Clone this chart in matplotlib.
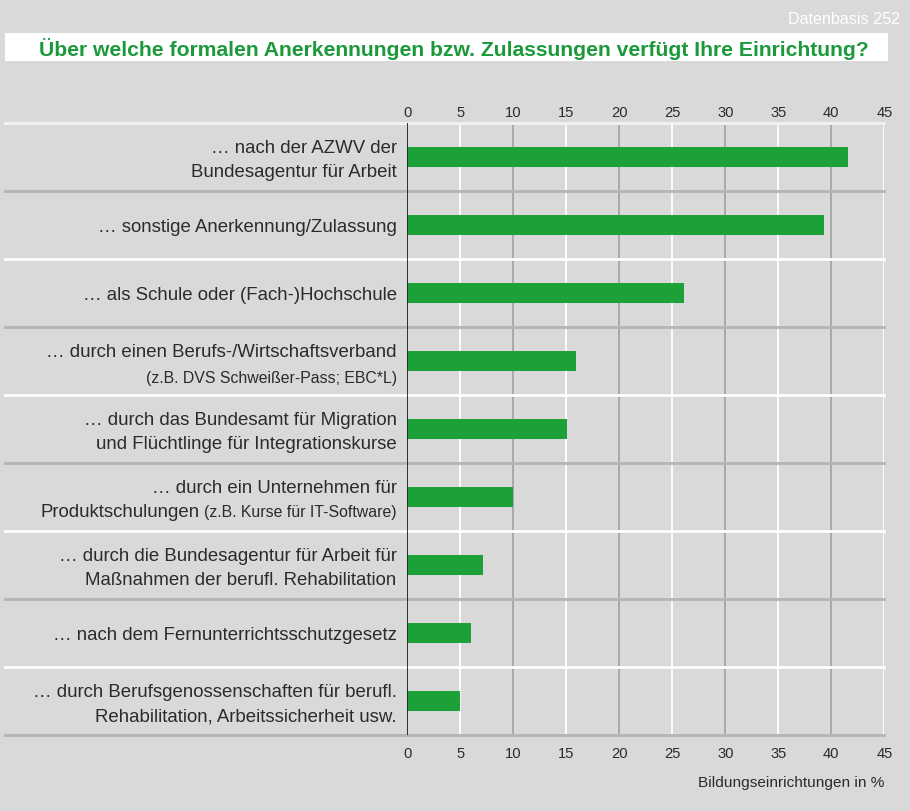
import matplotlib
matplotlib.use('Agg')
import matplotlib.pyplot as plt

plt.rcParams['font.family'] = ['Liberation Sans', 'DejaVu Sans']

# data, top to bottom
labels_main = [
  '… nach der AZWV der\nBundesagentur für Arbeit',
  '… sonstige Anerkennung/Zulassung',
  '… als Schule oder (Fach-)Hochschule',
  '… durch einen Berufs-/Wirtschaftsverband',
  '… durch das Bundesamt für Migration\nund Flüchtlinge für Integrationskurse',
  '… durch ein Unternehmen für\nProduktschulungen',
  '… durch die Bundesagentur für Arbeit für\nMaßnahmen der berufl. Rehabilitation',
  '… nach dem Fernunterrichtsschutzgesetz',
  '… durch Berufsgenossenschaften für berufl.\nRehabilitation, Arbeitssicherheit usw.',
]
# smaller note text (on its own line or at the end of the last line)
labels_note = ['', '', '', '(z.B. DVS Schweißer-Pass; EBC*L)', '', '(z.B. Kurse für IT-Software)', '', '', '']
note_newline = [False, False, False, True, False, False, False, False, False]
values = [41.6, 39.3, 26.1, 15.9, 15.1, 10.0, 7.1, 6.0, 5.0]
ticks = [0, 5, 10, 15, 20, 25, 30, 35, 40, 45]

BG = '#d9d9d9'
GREEN = '#1ca038'
TEXT = '#2b2b2b'
GRAY_LINE = '#a6a6a6'
FS_LABEL = 13.4
FS_NOTE = 11.4

W, H = 910, 812
fig = plt.figure(figsize=(W / 100, H / 100), dpi=100, facecolor=BG)

def fy(py):
  return 1 - py / H

ax_l, ax_r, ax_t, ax_b = 407.3, 884.3, 124, 736
ax = fig.add_axes([ax_l / W, fy(ax_b), (ax_r - ax_l) / W, (ax_b - ax_t) / H])
ax.set_facecolor(BG)

n = len(values)
ypos = list(range(n))
ax.barh(ypos, values, height=0.28, color=GREEN, zorder=3)
ax.set_xlim(0, 45)
ax.set_ylim(n - 0.5, -0.5)

# vertical grid
for t in ticks:
  if t == 0:
    ax.axvline(t, color='#222222', lw=1.3, zorder=4)
  elif t % 10 == 0:
    ax.axvline(t, color=GRAY_LINE, lw=1.3, zorder=1)
  else:
    ax.axvline(t, color='white', lw=1.3, zorder=1)

# horizontal separators, running into the label area
xmin = (5 - ax_l) / (ax_r - ax_l)
for i in range(n + 1):
  c = 'white' if i % 2 == 0 else '#b4b4b4'
  if i == 0:
    c = '#f2f2f2'
  ax.axhline(i - 0.5, xmin=xmin, xmax=1, color=c, lw=2, clip_on=False, zorder=2)

for s in ax.spines.values():
  s.set_visible(False)
ax.set_yticks([])
ax.set_xticks(ticks)
ax.set_xticklabels([str(t) for t in ticks])
ax.tick_params(axis='x', length=0, labelsize=10.6, labelcolor=TEXT, pad=8)

top = ax.secondary_xaxis('top')
top.set_xticks(ticks)
top.set_xticklabels([str(t) for t in ticks])
top.tick_params(axis='x', length=0, labelsize=10.6, labelcolor=TEXT, pad=3)
for s in top.spines.values():
  s.set_visible(False)

# category labels
fig.canvas.draw()
renderer = fig.canvas.get_renderer()
lab_x = 396.7 / W
row_h = (ax_b - ax_t) / n
for i in range(n):
  yc = ax_t + (i + 0.5) * row_h
  lines = labels_main[i].split('\n')
  note = labels_note[i]
  if note and note_newline[i]:
    fig.text(lab_x, fy(yc - 5.3), lines[0], ha='right', va='baseline', fontsize=FS_LABEL, color=TEXT)
    fig.text(lab_x, fy(yc + 21), note, ha='right', va='baseline', fontsize=FS_NOTE, color=TEXT)
  elif len(lines) == 2:
    fig.text(lab_x, fy(yc - 5), lines[0], ha='right', va='baseline', fontsize=FS_LABEL, color=TEXT)
    if note:
      t_note = fig.text(lab_x, fy(yc + 19), note, ha='right', va='baseline',
                        fontsize=FS_NOTE, color=TEXT)
      bb = t_note.get_window_extent(renderer)
      fig.text((bb.x0 - 4) / W, fy(yc + 19), lines[1], ha='right', va='baseline',
               fontsize=FS_LABEL, color=TEXT)
    else:
      fig.text(lab_x, fy(yc + 19), lines[1], ha='right', va='baseline', fontsize=FS_LABEL, color=TEXT)
  else:
    fig.text(lab_x, fy(yc + 5.7), lines[0], ha='right', va='baseline', fontsize=FS_LABEL, color=TEXT)

# title band
fig.patches.append(plt.Rectangle((5 / W, fy(62)), 883 / W, 28 / H,
                                 transform=fig.transFigure, facecolor='white',
                                 edgecolor='none'))
fig.text(454 / W, fy(48.5),
         'Über welche formalen Anerkennungen bzw. Zulassungen verfügt Ihre Einrichtung?',
         ha='center', va='center', fontsize=15.2, fontweight='bold', color='#1a9a3a')
fig.text(900 / W, fy(20), 'Datenbasis 252', ha='right', va='center',
         fontsize=11.6, color='white')
fig.text(ax_r / W, fy(783), 'Bildungseinrichtungen in %', ha='right', va='center',
         fontsize=11.1, color=TEXT)

fig.savefig('out.png', dpi=100, facecolor=BG)
